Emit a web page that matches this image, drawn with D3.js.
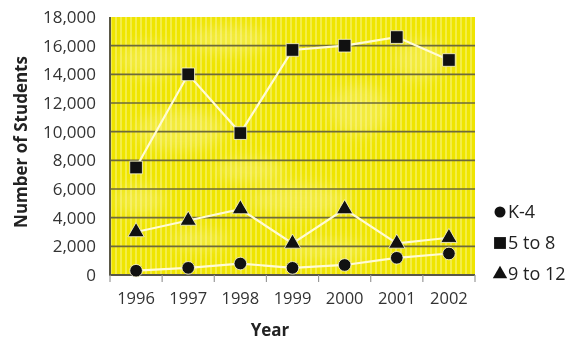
<!DOCTYPE html>
<html>
<head>
<meta charset="utf-8">
<script src="https://cdn.jsdelivr.net/npm/d3@7/dist/d3.min.js"></script>
<style>
  html, body { margin: 0; padding: 0; background: #ffffff; }
  svg { display: block; }
  text { font-family: "Open Sans", "Noto Sans", sans-serif; }
</style>
</head>
<body>
<svg id="chart" width="570" height="341"></svg>
<script>
// Enrollment by grade band, 1996–2002
const years = ["1996", "1997", "1998", "1999", "2000", "2001", "2002"];
const k4 = [300, 500, 800, 500, 700, 1200, 1500];
const grades5to8 = [7500, 14000, 9900, 15700, 16000, 16600, 15000];
const grades9to12 = [3000, 3800, 4600, 2200, 4600, 2200, 2600];
const yTicks = [0, 2000, 4000, 6000, 8000, 10000, 12000, 14000, 16000, 18000];
const seriesNames = ["K-4", "5 to 8", "9 to 12"];
const seriesShapes = ["circle", "square", "triangle"];

const series = [
  { name: seriesNames[0], shape: seriesShapes[0], values: k4 },
  { name: seriesNames[1], shape: seriesShapes[1], values: grades5to8 },
  { name: seriesNames[2], shape: seriesShapes[2], values: grades9to12 }
];

const svg = d3.select("#chart");
const margin = { left: 110, right: 475, top: 17, bottom: 275 };

const x = d3.scaleBand().domain(years).range([margin.left, margin.right]).padding(0);
const y = d3.scaleLinear().domain([0, 18000]).range([margin.bottom, margin.top]);

// Plot background: yellow with soft light patches and fine vertical stripes
const defs = svg.append("defs");
const pat = defs.append("pattern")
  .attr("id", "stripes").attr("patternUnits", "userSpaceOnUse")
  .attr("width", 5).attr("height", 10);
pat.append("rect").attr("x", 0).attr("y", 0).attr("width", 2).attr("height", 10)
  .attr("fill", "#fbf6a0").attr("opacity", 0.45);
defs.append("filter").attr("id", "soft")
  .attr("x", "-50%").attr("y", "-50%").attr("width", "200%").attr("height", "200%")
  .append("feGaussianBlur").attr("stdDeviation", 7);
defs.append("clipPath").attr("id", "plotClip")
  .append("rect").attr("x", margin.left).attr("y", margin.top)
  .attr("width", margin.right - margin.left).attr("height", margin.bottom - margin.top);

const bg = svg.append("g").attr("clip-path", "url(#plotClip)");
bg.append("rect")
  .attr("x", margin.left).attr("y", margin.top)
  .attr("width", margin.right - margin.left).attr("height", margin.bottom - margin.top)
  .attr("fill", "#efe500");
const patches = [
  [150, 60, 30, 18], [230, 40, 40, 14], [180, 130, 45, 20], [300, 200, 50, 16],
  [360, 110, 30, 25], [140, 200, 25, 15], [250, 170, 35, 12], [420, 60, 25, 20],
  [330, 250, 40, 10], [200, 240, 30, 10]
];
bg.append("g").attr("filter", "url(#soft)")
  .selectAll("ellipse").data(patches).join("ellipse")
  .attr("cx", d => d[0]).attr("cy", d => d[1]).attr("rx", d => d[2]).attr("ry", d => d[3])
  .attr("fill", "#f6f070").attr("opacity", 0.55);
bg.append("rect")
  .attr("x", margin.left).attr("y", margin.top)
  .attr("width", margin.right - margin.left).attr("height", margin.bottom - margin.top)
  .attr("fill", "url(#stripes)");

// Horizontal gridlines
svg.append("g").selectAll("line")
  .data(yTicks.filter(t => t > 0 && t < 18000)).join("line")
  .attr("x1", margin.left).attr("x2", margin.right)
  .attr("y1", d => y(d)).attr("y2", d => y(d))
  .attr("stroke", "#6e6a3c").attr("stroke-width", 1.6);

// Y axis labels
svg.append("g").selectAll("text")
  .data(yTicks).join("text")
  .attr("x", 96).attr("y", d => y(d))
  .attr("dy", "0.35em").attr("text-anchor", "end")
  .attr("font-size", 17).attr("fill", "#333")
  .text(d => d3.format(",")(d));

// Axis lines
svg.append("line")
  .attr("x1", margin.left).attr("x2", margin.left)
  .attr("y1", margin.top).attr("y2", margin.bottom + 1)
  .attr("stroke", "#5a5848").attr("stroke-width", 2);
svg.append("line")
  .attr("x1", margin.left - 1).attr("x2", margin.right)
  .attr("y1", margin.bottom).attr("y2", margin.bottom)
  .attr("stroke", "#5a5848").attr("stroke-width", 2);

// X tick marks at band edges
const edges = years.map(d => x(d)).concat([x(years[years.length - 1]) + x.bandwidth()]);
svg.append("g").selectAll("line").data(edges).join("line")
  .attr("x1", d => d).attr("x2", d => d)
  .attr("y1", margin.bottom).attr("y2", margin.bottom + 7)
  .attr("stroke", "#999").attr("stroke-width", 1.2);

// X labels
svg.append("g").selectAll("text").data(years).join("text")
  .attr("x", d => x(d) + x.bandwidth() / 2).attr("y", 298)
  .attr("dy", "0.35em").attr("text-anchor", "middle")
  .attr("font-size", 16.5).attr("fill", "#333")
  .text(d => d);

// Axis titles
svg.append("text")
  .attr("x", 270).attr("y", 330).attr("dy", "0.35em")
  .attr("text-anchor", "middle").attr("font-size", 17).attr("font-weight", "bold")
  .attr("fill", "#222").text("Year");
svg.append("text")
  .attr("transform", "translate(21,142) rotate(-90)")
  .attr("dy", "0.35em").attr("text-anchor", "middle")
  .attr("font-size", 17).attr("font-weight", "bold")
  .attr("fill", "#222").text("Number of Students");

// Lines
const cx = d => x(d) + x.bandwidth() / 2;
const line = d3.line().x((v, i) => cx(years[i])).y(v => y(v));
svg.append("g").selectAll("path").data(series).join("path")
  .attr("d", s => line(s.values))
  .attr("fill", "none").attr("stroke", "#fffbd6").attr("stroke-width", 2.2);

// Markers
const markerSymbol = {
  circle: d3.symbol().type(d3.symbolCircle).size(125),
  square: d3.symbol().type(d3.symbolSquare).size(160),
  triangle: d3.symbol().type(d3.symbolTriangle).size(115)
};
const legendSymbol = {
  circle: d3.symbol().type(d3.symbolCircle).size(95),
  square: d3.symbol().type(d3.symbolSquare).size(140),
  triangle: d3.symbol().type(d3.symbolTriangle).size(90)
};
series.forEach(s => {
  svg.append("g").selectAll("path").data(s.values).join("path")
    .attr("transform", (v, i) => `translate(${cx(years[i])},${y(v)})`)
    .attr("d", markerSymbol[s.shape]())
    .attr("fill", "#111").attr("stroke", "#fffbd6").attr("stroke-width", 0.8);
});

// Legend
const legend = svg.append("g");
const legendRows = [212, 243, 274];
series.forEach((s, i) => {
  const ly = legendRows[i];
  legend.append("path")
    .attr("transform", `translate(500,${ly})`)
    .attr("d", legendSymbol[s.shape]()).attr("fill", "#111");
  legend.append("text")
    .attr("x", 508).attr("y", ly).attr("dy", "0.35em")
    .attr("font-size", 18).attr("fill", "#222").text(s.name);
});
</script>
</body>
</html>
